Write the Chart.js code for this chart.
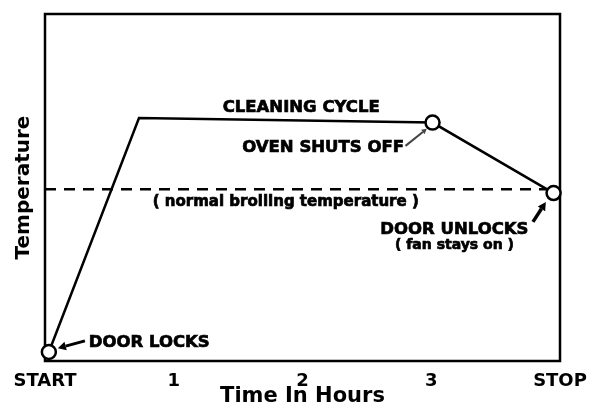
<!DOCTYPE html>
<html lang="en">
<head>
    <meta charset="UTF-8">
    <title>Self-Clean Cycle</title>
    <script src="https://cdn.jsdelivr.net/npm/chart.js"></script>
    <style>
        body {
            margin: 0;
            background-color: #fff;
        }
        .chart-box {
            width: 589px;
            height: 412px;
        }
    </style>
</head>
<body>
    <div class="chart-box">
        <canvas id="cycleChart" width="589" height="412"></canvas>
    </div>

    <script>
        // oven temperature through the self-clean cycle (hours, relative temp)
        const cycleHours = [0.03, 0.73, 3.01, 3.95];
        const cycleTemps = [2.6, 70.0, 68.7, 48.4];

        // normal broiling temperature reference
        const broilHours = [0, 3.9];
        const broilTemps = [49.5, 49.5];

        const tickLabels = ['START', '1', '2', '3', 'STOP'];

        // callouts, placed in chart units
        const notes = [
            { text: 'CLEANING CYCLE', x: 1.99, y: 72.9, size: 16.5 },
            { text: 'OVEN SHUTS OFF', x: 2.16, y: 61.4, size: 16.5 },
            { text: '( normal broiling temperature )', x: 1.87, y: 45.8, size: 15 },
            { text: 'DOOR UNLOCKS', x: 3.18, y: 37.8, size: 16.5 },
            { text: '( fan stays on )', x: 3.18, y: 33.4, size: 14 },
            { text: 'DOOR LOCKS', x: 0.81, y: 5.2, size: 16.5 }
        ];

        const arrows = [
            { from: [0.31, 5.8], to: [0.10, 3.7], width: 3, head: 8, color: '#000' },
            { from: [2.80, 62.0], to: [2.965, 66.9], width: 2, head: 5, color: '#444' },
            { from: [3.79, 40.1], to: [3.89, 45.8], width: 3.5, head: 8, color: '#000' }
        ];

        const boldFont = 'DejaVu Sans';

        function drawArrow(ctx, x0, y0, x1, y1, a) {
            const ang = Math.atan2(y1 - y0, x1 - x0);
            const hx = x1 - Math.cos(ang) * a.head;
            const hy = y1 - Math.sin(ang) * a.head;
            ctx.strokeStyle = a.color;
            ctx.fillStyle = a.color;
            ctx.lineWidth = a.width;
            ctx.beginPath();
            ctx.moveTo(x0, y0);
            ctx.lineTo(hx, hy);
            ctx.stroke();
            ctx.beginPath();
            ctx.moveTo(x1, y1);
            ctx.lineTo(hx + Math.sin(ang) * a.head * 0.55, hy - Math.cos(ang) * a.head * 0.55);
            ctx.lineTo(hx - Math.sin(ang) * a.head * 0.55, hy + Math.cos(ang) * a.head * 0.55);
            ctx.closePath();
            ctx.fill();
        }

        const frameAndNotes = {
            id: 'frameAndNotes',
            beforeDatasetsDraw(chart) {
                const { ctx, chartArea: a } = chart;
                ctx.save();
                ctx.strokeStyle = '#000';
                ctx.lineWidth = 2.5;
                ctx.strokeRect(a.left, a.top, a.right - a.left, a.bottom - a.top);
                ctx.restore();
            },
            afterDatasetsDraw(chart) {
                const { ctx, scales: { x, y } } = chart;
                ctx.save();
                ctx.fillStyle = '#000';
                ctx.strokeStyle = '#000';
                ctx.lineWidth = 0.7;
                ctx.textAlign = 'center';
                ctx.textBaseline = 'middle';
                notes.forEach(n => {
                    const px = x.getPixelForValue(n.x);
                    const py = y.getPixelForValue(n.y);
                    ctx.font = 'bold ' + n.size + 'px "' + boldFont + '"';
                    ctx.fillText(n.text, px, py);
                    ctx.strokeText(n.text, px, py);
                });
                arrows.forEach(a => {
                    drawArrow(ctx,
                        x.getPixelForValue(a.from[0]), y.getPixelForValue(a.from[1]),
                        x.getPixelForValue(a.to[0]), y.getPixelForValue(a.to[1]), a);
                });
                ctx.restore();
            }
        };

        const ctx = document.getElementById('cycleChart').getContext('2d');

        new Chart(ctx, {
            type: 'line',
            data: {
                datasets: [
                    {
                        data: cycleHours.map((h, i) => ({ x: h, y: cycleTemps[i] })),
                        borderColor: '#000',
                        borderWidth: 2.5,
                        tension: 0,
                        clip: false,
                        pointRadius: [7, 0, 7, 7],
                        pointBackgroundColor: '#fff',
                        pointBorderColor: '#000',
                        pointBorderWidth: 2.5
                    },
                    {
                        data: broilHours.map((h, i) => ({ x: h, y: broilTemps[i] })),
                        borderColor: '#000',
                        borderWidth: 2.5,
                        borderDash: [11, 8],
                        pointRadius: 0
                    }
                ]
            },
            options: {
                responsive: false,
                animation: false,
                devicePixelRatio: 1,
                layout: {
                    padding: { top: 14, right: 29, left: 0, bottom: 0 }
                },
                plugins: {
                    legend: { display: false },
                    tooltip: { enabled: false }
                },
                scales: {
                    x: {
                        type: 'linear',
                        min: 0,
                        max: 4,
                        afterFit(scale) {
                            scale.height = 51;
                            scale.paddingLeft = 0;
                            scale.paddingRight = 0;
                        },
                        grid: { display: false, drawTicks: false },
                        border: { display: false },
                        ticks: {
                            stepSize: 1,
                            padding: 10,
                            color: '#000',
                            maxRotation: 0,
                            font: { family: boldFont, weight: 'bold', size: 18 },
                            callback: (value, index) => tickLabels[index]
                        },
                        title: {
                            display: true,
                            text: 'Time In Hours',
                            color: '#000',
                            font: { family: boldFont, weight: 'bold', size: 21 },
                            padding: { top: 0, bottom: 3 }
                        }
                    },
                    y: {
                        min: 0,
                        max: 100,
                        afterFit(scale) { scale.width = 45; },
                        grid: { display: false },
                        border: { display: false },
                        ticks: { display: false },
                        title: {
                            display: true,
                            text: 'Temperature',
                            color: '#000',
                            font: { family: boldFont, weight: 'bold', size: 20 },
                            padding: { top: 12, bottom: 0 }
                        }
                    }
                }
            },
            plugins: [frameAndNotes]
        });
    </script>
</body>
</html>
